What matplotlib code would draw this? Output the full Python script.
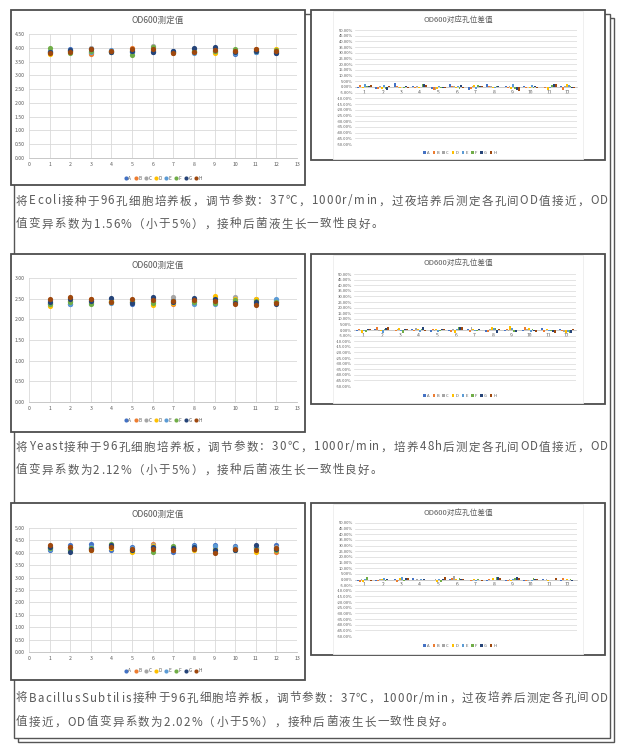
import matplotlib
matplotlib.use("Agg")
import numpy as np
from matplotlib import pyplot as plt
from matplotlib.patches import Rectangle
from matplotlib.ticker import FuncFormatter, MultipleLocator

plt.rcParams['font.family'] = ['Noto Sans CJK SC', 'DejaVu Sans']

W, H = 624, 750

wells = list(range(1, 13))
rows = ['A', 'B', 'C', 'D', 'E', 'F', 'G', 'H']
colors = ['#4472C4', '#ED7D31', '#A5A5A5', '#FFC000', '#5B9BD5', '#70AD47', '#264478', '#9E480E']

# OD600 measured values, one list per row letter (columns 1..12)
od_ecoli = {
    'A': [3.88, 3.95, 3.82, 3.85, 3.85, 3.84, 3.87, 3.97, 3.98, 3.78, 3.85, 3.80],
    'B': [3.80, 3.88, 3.77, 3.88, 4.00, 3.92, 3.80, 3.83, 3.85, 3.90, 3.94, 3.85],
    'C': [3.83, 3.90, 3.98, 3.90, 3.90, 4.05, 3.85, 3.88, 3.95, 3.92, 3.90, 3.90],
    'D': [3.79, 3.87, 3.83, 3.89, 3.92, 3.90, 3.83, 3.86, 3.80, 3.85, 3.92, 3.96],
    'E': [3.86, 3.93, 3.85, 3.93, 3.83, 3.88, 3.86, 3.82, 3.88, 3.82, 3.86, 3.84],
    'F': [3.98, 3.80, 3.88, 3.86, 3.75, 4.02, 3.84, 3.90, 3.90, 3.94, 3.89, 3.93],
    'G': [3.85, 3.92, 3.95, 3.86, 3.88, 3.85, 3.90, 4.00, 4.02, 3.86, 3.88, 3.82],
    'H': [3.82, 3.85, 3.94, 3.87, 3.97, 3.95, 3.82, 3.85, 3.92, 3.88, 3.96, 3.88],
}
od_yeast = {
    'A': [2.40, 2.38, 2.46, 2.50, 2.38, 2.52, 2.47, 2.50, 2.52, 2.44, 2.46, 2.46],
    'B': [2.46, 2.52, 2.48, 2.41, 2.46, 2.44, 2.38, 2.45, 2.42, 2.42, 2.37, 2.42],
    'C': [2.44, 2.45, 2.44, 2.45, 2.44, 2.48, 2.53, 2.44, 2.46, 2.53, 2.50, 2.44],
    'D': [2.33, 2.44, 2.42, 2.44, 2.42, 2.35, 2.40, 2.43, 2.56, 2.50, 2.48, 2.43],
    'E': [2.38, 2.36, 2.40, 2.39, 2.43, 2.42, 2.42, 2.36, 2.38, 2.45, 2.40, 2.48],
    'F': [2.36, 2.42, 2.36, 2.42, 2.41, 2.40, 2.44, 2.41, 2.40, 2.46, 2.44, 2.41],
    'G': [2.42, 2.48, 2.45, 2.52, 2.40, 2.54, 2.43, 2.52, 2.50, 2.40, 2.42, 2.38],
    'H': [2.48, 2.54, 2.50, 2.43, 2.48, 2.46, 2.45, 2.47, 2.44, 2.38, 2.35, 2.40],
}
od_bacillus = {
    'A': [4.10, 4.30, 4.35, 4.12, 4.25, 4.20, 4.05, 4.30, 4.33, 4.28, 4.25, 4.30],
    'B': [4.28, 4.25, 4.15, 4.28, 4.08, 4.34, 4.10, 4.20, 4.05, 4.18, 4.20, 4.05],
    'C': [4.22, 4.20, 4.20, 4.22, 4.15, 4.30, 4.15, 4.18, 4.20, 4.22, 4.18, 4.25],
    'D': [4.20, 4.15, 4.12, 4.18, 4.02, 4.28, 4.20, 4.10, 4.15, 4.15, 4.05, 4.10],
    'E': [4.15, 4.10, 4.25, 4.26, 4.20, 4.25, 4.22, 4.28, 4.28, 4.25, 4.22, 4.18],
    'F': [4.18, 4.12, 4.18, 4.34, 4.12, 4.05, 4.26, 4.15, 4.10, 4.12, 4.15, 4.12],
    'G': [4.25, 4.02, 4.14, 4.32, 4.10, 4.22, 4.18, 4.22, 4.12, 4.10, 4.32, 4.15],
    'H': [4.30, 4.22, 4.10, 4.25, 4.14, 4.15, 4.12, 4.16, 4.01, 4.16, 4.12, 4.20],
}

# deviation of each well (%)
dev_ecoli = {
    'A': [-1.2, -1.5, 3.2, 0.5, -2.0, 2.5, -2.8, 3.0, 1.0, 0.8, -0.3, 1.2],
    'B': [1.5, -2.0, 0.5, -1.0, -3.0, 0.8, -2.0, 1.2, -0.8, -1.0, -0.5, -2.5],
    'C': [0.3, 0.5, -0.5, 0.8, -2.5, 0.5, 1.0, 0.5, 1.0, 0.3, -0.2, 0.8],
    'D': [-0.5, -1.8, -0.8, -0.5, -1.5, -0.6, 1.5, -1.0, -1.5, -0.8, -2.8, 2.5],
    'E': [2.5, 2.0, 0.3, -0.3, 1.2, 0.5, -1.8, -0.5, 2.5, 1.8, -0.5, 1.8],
    'F': [0.8, -1.5, -1.0, 2.5, -0.8, -1.8, 2.0, 0.8, -2.0, -0.8, 1.5, 0.5],
    'G': [1.2, -2.5, 0.5, 2.8, -0.5, 1.5, 1.0, 0.5, -3.0, 0.5, 2.5, -0.5],
    'H': [1.5, 1.0, -1.0, 2.0, -0.8, -0.5, 0.8, -0.3, -3.2, -0.5, 2.8, -1.2],
}
dev_yeast = {
    'A': [-0.5, 0.8, -0.3, 1.0, -1.5, -1.0, 0.8, -1.5, -1.0, -1.2, 1.5, 1.2],
    'B': [1.2, 2.5, -0.5, -0.8, 0.5, -1.5, -2.0, -2.0, 0.5, 2.5, -2.0, -1.0],
    'C': [0.3, -0.8, 0.5, 2.0, -0.5, 0.5, 2.5, 0.5, -1.2, 0.8, 0.3, -2.0],
    'D': [-3.0, -0.5, 1.8, 0.8, 0.8, -2.8, 0.8, 2.5, 3.2, 1.5, 1.2, -2.5],
    'E': [-0.5, -2.8, -0.5, -1.5, -1.5, 0.8, -0.5, 1.5, 1.8, -1.5, -0.5, -2.2],
    'F': [-2.0, 0.5, -2.5, 0.5, -0.8, 2.5, -1.0, 1.5, -2.0, 0.8, -1.0, -2.5],
    'G': [0.5, 1.5, 0.8, 2.5, 0.8, 3.0, 0.5, -2.5, -2.0, -1.0, -1.8, -2.5],
    'H': [1.2, 3.0, 1.0, -1.0, 1.0, 2.8, -0.3, 0.8, 0.3, -1.8, -2.5, 0.5],
}
dev_bacillus = {
    'A': [-1.0, -1.5, 0.5, 1.0, -0.3, 0.5, -0.5, -1.5, -1.5, -1.0, 0.5, -1.5],
    'B': [-2.0, -1.0, -2.0, -0.5, -0.8, 1.2, -1.0, 0.8, -1.0, -1.2, -0.8, 1.0],
    'C': [0.5, 0.3, -1.5, 0.3, 0.3, 3.5, -1.5, -0.5, 0.5, -1.0, 0.3, -0.5],
    'D': [-2.0, 0.8, 1.0, -0.5, -1.8, 0.5, 0.5, 1.5, -1.2, -0.8, -1.0, 0.5],
    'E': [0.5, 1.5, 2.0, 0.3, 0.8, -0.8, -1.0, -0.5, 0.8, -1.5, -0.5, -0.8],
    'F': [2.0, -1.5, -1.0, -0.5, -2.0, 1.5, 0.8, 2.0, 1.5, 1.0, -0.3, 0.8],
    'G': [-0.5, 0.5, 1.2, 0.3, 0.8, 0.3, -0.5, 2.5, 2.5, 0.5, -0.5, -1.0],
    'H': [-1.0, -0.5, 1.0, -0.3, 2.5, 0.5, -1.5, 1.0, 1.5, 0.3, 1.5, -0.5],
}

captions = [
    ["将Ecoli接种于96孔细胞培养板，调节参数：37℃，1000r/min，过夜培养后测定各孔间OD值接近，OD",
     "值变异系数为1.56%（小于5%），接种后菌液生长一致性良好。"],
    ["将Yeast接种于96孔细胞培养板，调节参数：30℃，1000r/min，培养48h后测定各孔间OD值接近，OD",
     "值变异系数为2.12%（小于5%），接种后菌液生长一致性良好。"],
    ["将BacillusSubtilis接种于96孔细胞培养板，调节参数：37℃，1000r/min，过夜培养后测定各孔间OD",
     "值接近，OD值变异系数为2.02%（小于5%），接种后菌液生长一致性良好。"],
]

grey_txt = '#595959'
grid_c = '#d9d9d9'


def fig_box(x0, y0, x1, y1):
    # pixel box (top-left origin) -> figure fraction rect
    return [x0 / W, 1 - y1 / H, (x1 - x0) / W, (y1 - y0) / H]


def scatter_chart(fig, bg, data, ymax, box, plot, title_y, legend_y):
    bg.add_patch(Rectangle((box[0], box[1]), box[2] - box[0], box[3] - box[1],
                           facecolor='white', edgecolor='#4d4d4d', lw=1.3, zorder=3))
    ax = fig.add_axes(fig_box(*plot))
    ax.set_facecolor('none')
    for key, col in zip(rows, colors):
        ax.scatter(wells, data[key], s=14, color=col, label=key, zorder=3, linewidths=0)
    ax.set_xlim(0, 13)
    ax.set_ylim(0, ymax)
    ax.xaxis.set_major_locator(MultipleLocator(1))
    ax.yaxis.set_major_locator(MultipleLocator(0.5))
    ax.yaxis.set_major_formatter(FuncFormatter(lambda v, p: '%.2f' % v))
    ax.grid(True, color=grid_c, lw=0.6)
    ax.set_axisbelow(True)
    for s in ax.spines.values():
        s.set_visible(False)
    ax.spines['bottom'].set_visible(True)
    ax.spines['bottom'].set_color('#bfbfbf')
    ax.spines['bottom'].set_linewidth(0.6)
    ax.tick_params(length=0, labelsize=3.7, colors=grey_txt, pad=3)
    bg.text((box[0] + box[2]) / 2, title_y, 'OD600测定值', ha='center', va='center',
            fontsize=6.2, color=grey_txt, zorder=5)
    ax.legend(loc='center', bbox_to_anchor=((plot[0] + plot[2]) / 2 / W, 1 - legend_y / H),
              bbox_transform=fig.transFigure, ncol=8, fontsize=3.4, frameon=False,
              handletextpad=0.05, columnspacing=0.55, handlelength=0.9, markerscale=0.8,
              labelcolor=grey_txt)
    return ax


def bar_chart(fig, bg, data, box, plot, title_y, legend_y):
    bg.add_patch(Rectangle((box[0], box[1]), box[2] - box[0], box[3] - box[1],
                           facecolor='white', edgecolor='#4d4d4d', lw=1.3, zorder=3))
    bg.add_patch(Rectangle((333, box[1] + 1), 250, box[3] - box[1] - 2,
                           facecolor='white', edgecolor='#ececec', lw=0.6, zorder=4))
    ax = fig.add_axes(fig_box(*plot))
    ax.set_facecolor('none')
    x = np.arange(1, 13)
    bw = 0.1
    for i, (key, col) in enumerate(zip(rows, colors)):
        ax.bar(x + (i - 3.5) * bw, data[key], width=bw * 0.95, color=col, label=key, zorder=3)
    ax.set_xlim(0.5, 12.5)
    ax.set_ylim(-50, 50)
    ax.yaxis.set_major_locator(MultipleLocator(5))
    ax.yaxis.set_major_formatter(FuncFormatter(lambda v, p: '%.2f%%' % v))
    ax.set_xticks(x)
    ax.grid(True, axis='y', color=grid_c, lw=0.5)
    ax.set_axisbelow(True)
    for s in ax.spines.values():
        s.set_visible(False)
    ax.spines['bottom'].set_visible(True)
    ax.spines['bottom'].set_position(('data', 0))
    ax.spines['bottom'].set_color('#bfbfbf')
    ax.spines['bottom'].set_linewidth(0.5)
    ax.tick_params(length=0, labelsize=3.0, colors=grey_txt, pad=1.5)
    ax.tick_params(axis='x', labelsize=3.6, pad=2)
    bg.text(458, title_y, 'OD600对应孔位差值', ha='center', va='center',
            fontsize=5.5, color=grey_txt, zorder=5)
    ax.legend(loc='center', bbox_to_anchor=(460 / W, 1 - legend_y / H),
              bbox_transform=fig.transFigure, ncol=8, fontsize=3.0, frameon=False,
              handletextpad=0.25, columnspacing=0.8, handlelength=0.6, handleheight=0.6,
              labelcolor=grey_txt)
    return ax


def spaced_lines(fig, bg, lines, x0, x1, ys, size=8.3):
    renderer = fig.canvas.get_renderer()

    def width(s):
        t = bg.text(0, 0, s, fontsize=size)
        w = t.get_window_extent(renderer).width
        t.remove()
        return w

    base = width('||')
    widths = [[width('|' + ch + '|') - base for ch in line] for line in lines]
    gap = (x1 - x0 - sum(widths[0])) / (len(lines[0]) - 1)
    for line, ws, y in zip(lines, widths, ys):
        x = x0
        for ch, w in zip(line, ws):
            bg.text(x, y, ch, fontsize=size, color='#5a5a5a', ha='left', va='center', zorder=5)
            x += w + gap


def main():
    fig = plt.figure(figsize=(W / 100, H / 100), dpi=100)
    bg = fig.add_axes([0, 0, 1, 1])
    bg.set_xlim(0, W)
    bg.set_ylim(H, 0)
    bg.axis('off')

    # outer frame with shadow
    bg.add_patch(Rectangle((18, 18), 596, 724, facecolor='white', edgecolor='#555555', lw=1.0, zorder=1))
    bg.add_patch(Rectangle((14, 14), 596, 724, facecolor='white', edgecolor='#555555', lw=1.0, zorder=2))

    scatter_chart(fig, bg, od_ecoli, 4.5, (11, 10, 305, 185), (29, 34, 297, 158), 20, 178)
    bar_chart(fig, bg, dev_ecoli, (311, 10, 605, 160), (355, 30, 577, 144), 20, 153)

    scatter_chart(fig, bg, od_yeast, 3.0, (11, 254, 305, 432), (29, 278, 297, 402), 265, 420)
    bar_chart(fig, bg, dev_yeast, (311, 254, 605, 404), (354, 274, 576, 386), 263, 396)

    scatter_chart(fig, bg, od_bacillus, 5.0, (11, 503, 305, 680), (29, 528, 297, 652), 514, 671)
    bar_chart(fig, bg, dev_bacillus, (311, 503, 605, 655), (355, 523, 577, 636), 513, 646)

    spaced_lines(fig, bg, captions[0], 16, 608, [201, 224])
    spaced_lines(fig, bg, captions[1], 16, 608, [447, 470])
    spaced_lines(fig, bg, captions[2], 16, 608, [698, 722])

    fig.savefig('out.png', dpi=100)


if __name__ == '__main__':
    main()
